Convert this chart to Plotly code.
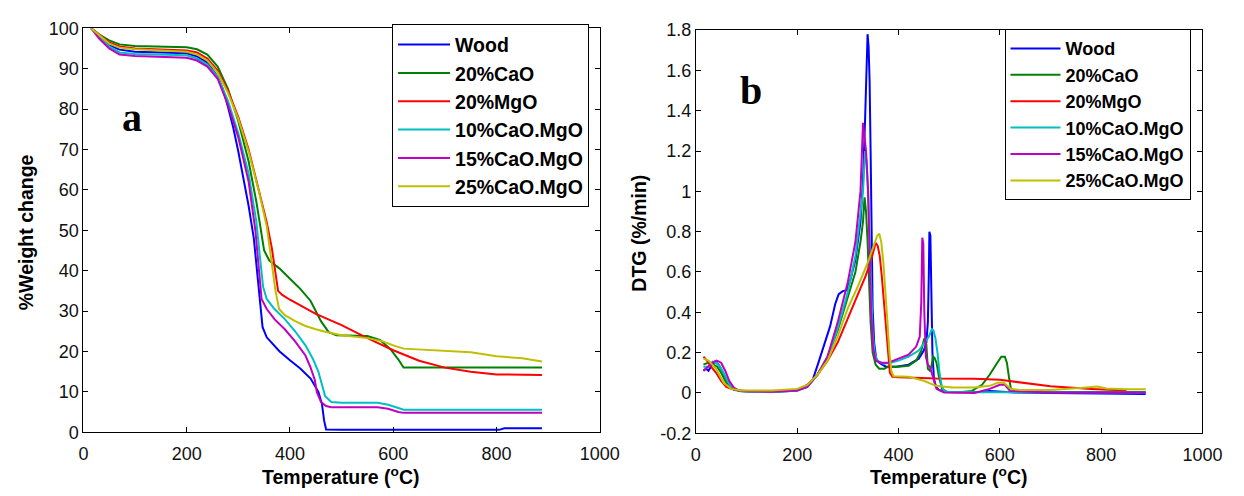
import plotly.graph_objects as go

# ---------------- series names & colours ----------------
names = ["Wood", "20%CaO", "20%MgO", "10%CaO.MgO", "15%CaO.MgO", "25%CaO.MgO"]
colors = ["#0000FF", "#008000", "#FF0000", "#00BFBF", "#BF00BF", "#BFBF00"]

# ---------------- (a) TGA: % weight vs temperature ----------------
tga_T_wood = [15, 30, 50, 70, 100, 150, 200, 220, 240, 260, 270, 280, 290, 300, 310, 320, 330, 338, 343, 347,
              355, 365, 380, 400, 420, 440, 455, 462, 466, 470, 500, 700, 805, 815, 888]
tga_w_wood = [100, 98.3, 95.8, 94.7, 94.2, 94.0, 93.8, 93.0, 91.5, 88.0, 85.0, 80.5, 75.5, 69.5, 63.0, 56.0, 48.0, 38.0, 32.0, 26.0,
              23.5, 22.0, 20.0, 17.8, 15.8, 13.3, 10.0, 7.0, 3.0, 0.7, 0.6, 0.6, 0.6, 1.0, 1.0]

tga_T_cao = [15, 30, 50, 70, 100, 200, 220, 240, 260, 280, 300, 320, 335, 343, 350, 360, 380, 400, 420, 440, 448,
             460, 475, 490, 550, 575, 595, 610, 620, 888]
tga_w_cao = [100, 98.5, 97.0, 96.0, 95.6, 95.3, 94.8, 93.5, 90.5, 85.0, 77.0, 67.0, 57.0, 50.0, 45.0, 42.5, 40.5, 38.0, 35.5, 32.5, 30.5,
             27.5, 24.8, 24.0, 23.8, 22.8, 20.5, 18.0, 16.0, 16.0]

tga_T_mgo = [15, 30, 50, 70, 100, 200, 220, 240, 260, 280, 300, 320, 340, 355, 365, 372, 377, 385, 400, 450, 500,
             550, 600, 650, 700, 750, 800, 888]
tga_w_mgo = [100, 98.5, 96.5, 95.5, 95.0, 94.5, 94.0, 92.5, 89.5, 84.5, 78.0, 70.0, 60.0, 52.0, 45.5, 39.5, 35.0, 34.0, 32.8, 29.3, 26.5,
             23.3, 20.3, 17.7, 16.0, 15.0, 14.3, 14.2]

tga_T_c10 = [15, 30, 50, 70, 100, 200, 220, 240, 260, 280, 300, 320, 335, 343, 348, 355, 370, 390, 410, 430, 445,
             455, 462, 468, 480, 500, 570, 590, 610, 620, 888]
tga_w_c10 = [100, 98.0, 95.5, 94.0, 93.6, 93.3, 92.5, 91.0, 88.0, 82.0, 74.0, 64.0, 52.0, 42.0, 36.0, 33.0, 30.5, 28.0, 25.0, 21.5, 18.0,
             15.0, 12.0, 9.0, 7.5, 7.3, 7.3, 6.8, 6.0, 5.6, 5.6]

tga_T_c15 = [15, 30, 50, 70, 100, 200, 220, 240, 260, 280, 300, 320, 333, 340, 345, 355, 370, 390, 410, 430, 440,
             448, 452, 460, 470, 480, 570, 590, 610, 620, 888]
tga_w_c15 = [100, 97.5, 95.0, 93.5, 93.1, 92.7, 92.0, 90.5, 87.5, 81.0, 73.0, 62.0, 50.0, 40.0, 33.0, 30.5, 28.0, 25.5, 22.5, 19.0, 16.0,
             13.0, 10.0, 7.5, 6.5, 6.2, 6.2, 5.8, 5.0, 4.8, 4.8]

tga_T_c25 = [15, 30, 50, 70, 100, 200, 220, 240, 260, 280, 300, 320, 340, 355, 365, 372, 379, 390, 410, 430, 450,
             470, 500, 550, 580, 600, 620, 650, 700, 750, 800, 850, 888]
tga_w_c25 = [100, 98.3, 96.2, 95.2, 94.8, 94.2, 93.5, 92.0, 89.0, 84.0, 77.5, 69.5, 59.5, 51.0, 42.0, 35.0, 30.5, 29.0, 27.5, 26.3, 25.5,
             24.8, 24.0, 23.3, 22.5, 21.5, 20.7, 20.5, 20.2, 19.8, 18.8, 18.3, 17.5]

# ---------------- (b) DTG: %/min vs temperature ----------------
dtg_T_wood = [15, 20, 25, 32, 38, 45, 52, 60, 70, 80, 95, 120, 150, 180, 200, 215, 230, 242, 255, 265, 275, 282, 290, 298,
              305, 315, 325, 330, 334, 337, 339, 341, 343, 345, 347, 349, 352, 356, 362, 375, 395, 420, 440, 450, 455,
              458, 460, 461, 463, 465, 467, 470, 474, 480, 490, 520, 560, 580, 600, 615, 630, 700, 800, 888]
dtg_v_wood = [0.11, 0.12, 0.11, 0.14, 0.155, 0.14, 0.11, 0.07, 0.035, 0.015, 0.008, 0.006, 0.006, 0.008, 0.012, 0.03, 0.06, 0.15, 0.25, 0.33, 0.44, 0.49, 0.505, 0.51,
              0.56, 0.66, 0.85, 1.05, 1.35, 1.7, 1.78, 1.72, 1.55, 1.2, 0.75, 0.42, 0.25, 0.17, 0.15, 0.13, 0.13, 0.14, 0.17, 0.21, 0.25,
              0.35, 0.6, 0.8, 0.78, 0.5, 0.2, 0.07, 0.03, 0.015, 0.006, 0.004, 0.005, 0.01, 0.008, 0.004, 0.002, 0.0, -0.003, -0.005]

dtg_T_cao = [15, 25, 35, 42, 50, 58, 66, 75, 90, 120, 160, 200, 220, 240, 260, 280, 300, 315, 325, 330, 333, 336, 339, 342,
             345, 349, 355, 362, 372, 380, 400, 420, 435, 445, 451, 455, 458, 462, 465, 468, 471, 475, 480, 486, 495, 520,
             545, 565, 580, 595, 603, 610, 614, 618, 622, 630, 700, 888]
dtg_v_cao = [0.14, 0.15, 0.14, 0.13, 0.1, 0.06, 0.03, 0.015, 0.008, 0.007, 0.008, 0.012, 0.03, 0.09, 0.18, 0.31, 0.48, 0.6, 0.75, 0.85, 0.97, 0.9, 0.75, 0.55,
             0.35, 0.2, 0.14, 0.12, 0.12, 0.13, 0.13, 0.135, 0.16, 0.21, 0.27, 0.24, 0.12, 0.11, 0.13, 0.18, 0.175, 0.15, 0.08, 0.02, 0.005, 0.003,
             0.01, 0.04, 0.09, 0.15, 0.18, 0.18, 0.15, 0.08, 0.02, 0.008, 0.004, 0.004]

dtg_T_mgo = [15, 22, 30, 40, 50, 60, 70, 85, 110, 150, 200, 220, 240, 260, 280, 300, 320, 335, 345, 350, 355, 359, 363, 367,
             371, 375, 379, 383, 388, 400, 475, 550, 600, 650, 700, 780, 850]
dtg_v_mgo = [0.18, 0.16, 0.13, 0.1, 0.06, 0.03, 0.02, 0.012, 0.008, 0.008, 0.015, 0.04, 0.09, 0.16, 0.25, 0.37, 0.49, 0.58, 0.65, 0.7, 0.745, 0.73, 0.68, 0.58,
             0.46, 0.33, 0.2, 0.1, 0.08, 0.078, 0.071, 0.07, 0.065, 0.05, 0.033, 0.02, 0.012]

dtg_T_c10 = [15, 25, 33, 40, 48, 56, 65, 75, 90, 120, 160, 200, 220, 240, 260, 280, 300, 315, 325, 330, 334, 337, 340, 343,
             346, 349, 353, 358, 370, 385, 400, 420, 440, 452, 460, 466, 469, 473, 477, 481, 485, 490, 500, 550, 600, 700, 888]
dtg_v_c10 = [0.13, 0.13, 0.155, 0.15, 0.13, 0.09, 0.05, 0.02, 0.008, 0.006, 0.006, 0.012, 0.03, 0.09, 0.17, 0.32, 0.5, 0.68, 0.88, 1.0, 1.2, 1.15, 1.0, 0.75,
             0.5, 0.3, 0.2, 0.16, 0.145, 0.15, 0.16, 0.18, 0.21, 0.25, 0.28, 0.316, 0.31, 0.27, 0.2, 0.1, 0.04, 0.01, 0.004, 0.003, 0.003, 0.002, 0.002]

dtg_T_c15 = [15, 25, 33, 41, 50, 58, 66, 75, 85, 100, 150, 200, 220, 240, 260, 280, 300, 315, 325, 330, 333, 336, 340, 343,
             346, 350, 355, 365, 380, 400, 420, 435, 442, 445, 447, 449, 451, 454, 458, 462, 468, 475, 490, 550, 580, 600, 610,
             620, 700, 888]
dtg_v_c15 = [0.11, 0.13, 0.15, 0.16, 0.15, 0.11, 0.06, 0.025, 0.012, 0.008, 0.006, 0.012, 0.03, 0.09, 0.18, 0.35, 0.55, 0.75, 1.0, 1.34, 1.28, 1.2, 1.0, 0.7,
             0.4, 0.22, 0.16, 0.15, 0.15, 0.17, 0.19, 0.23, 0.28, 0.45, 0.77, 0.74, 0.4, 0.18, 0.14, 0.13, 0.08, 0.02, 0.002, 0.0, 0.02, 0.04, 0.04,
             0.01, 0.002, 0.002]

dtg_T_c25 = [15, 25, 40, 55, 70, 90, 150, 200, 220, 240, 260, 280, 300, 320, 340, 352, 358, 362, 366, 370, 374, 378, 382,
             386, 390, 420, 450, 474, 506, 550, 580, 596, 608, 622, 640, 700, 758, 793, 810, 850, 888]
dtg_v_c25 = [0.17, 0.16, 0.12, 0.05, 0.02, 0.012, 0.012, 0.02, 0.04, 0.09, 0.16, 0.28, 0.42, 0.53, 0.65, 0.73, 0.78, 0.79, 0.75, 0.65, 0.52, 0.36, 0.2,
             0.11, 0.083, 0.08, 0.06, 0.035, 0.027, 0.027, 0.035, 0.05, 0.05, 0.019, 0.015, 0.015, 0.024, 0.032, 0.022, 0.018, 0.018]

tga_T = [tga_T_wood, tga_T_cao, tga_T_mgo, tga_T_c10, tga_T_c15, tga_T_c25]
tga_w = [tga_w_wood, tga_w_cao, tga_w_mgo, tga_w_c10, tga_w_c15, tga_w_c25]
dtg_T = [dtg_T_wood, dtg_T_cao, dtg_T_mgo, dtg_T_c10, dtg_T_c15, dtg_T_c25]
dtg_v = [dtg_v_wood, dtg_v_cao, dtg_v_mgo, dtg_v_c10, dtg_v_c15, dtg_v_c25]

# ---------------- tick labels ----------------
x_ticks = [0, 200, 400, 600, 800, 1000]
x_ticklabels = ["0", "200", "400", "600", "800", "1000"]
tga_ticks = [0, 10, 20, 30, 40, 50, 60, 70, 80, 90, 100]
tga_ticklabels = ["0", "10", "20", "30", "40", "50", "60", "70", "80", "90", "100"]
dtg_ticks = [-0.2, 0, 0.2, 0.4, 0.6, 0.8, 1.0, 1.2, 1.4, 1.6, 1.8]
dtg_ticklabels = ["-0.2", "0", "0.2", "0.4", "0.6", "0.8", "1", "1.2", "1.4", "1.6", "1.8"]

W, H = 1244, 496
FONT = "Liberation Sans, Arial, sans-serif"

fig = go.Figure()

for i in range(6):
    fig.add_trace(go.Scatter(x=tga_T[i], y=tga_w[i], mode="lines", name=names[i],
                             line=dict(color=colors[i], width=2),
                             xaxis="x", yaxis="y", legend="legend"))
for i in range(6):
    fig.add_trace(go.Scatter(x=dtg_T[i], y=dtg_v[i], mode="lines", name=names[i],
                             line=dict(color=colors[i], width=2),
                             xaxis="x2", yaxis="y2", legend="legend2"))


def px_x(p):
    return p / W


def px_y(p):
    return 1 - p / H


axis_common = dict(showline=True, linecolor="black", linewidth=1, mirror="ticks",
                   ticks="inside", ticklen=5, tickcolor="black", showgrid=False,
                   zeroline=False, tickfont=dict(family=FONT, size=18, color="#111"))

fig.update_layout(
    width=W, height=H,
    margin=dict(l=0, r=0, t=0, b=0),
    paper_bgcolor="white", plot_bgcolor="white",
    showlegend=True,
    xaxis=dict(domain=[px_x(80), px_x(607)], range=[0, 1000], anchor="y",
               tickvals=x_ticks, ticktext=x_ticklabels, ticklabelstandoff=5, **axis_common),
    yaxis=dict(domain=[px_y(440), px_y(19)], range=[0, 100], anchor="x",
               tickvals=tga_ticks, ticktext=tga_ticklabels, **axis_common),
    xaxis2=dict(domain=[px_x(705), px_x(1222)], range=[0, 1000], anchor="y2",
                tickvals=x_ticks, ticktext=x_ticklabels, ticklabelstandoff=5, **axis_common),
    yaxis2=dict(domain=[px_y(441), px_y(21)], range=[-0.2, 1.8], anchor="x2",
                tickvals=dtg_ticks, ticktext=dtg_ticklabels, **axis_common),
    legend=dict(x=px_x(395), y=px_y(15), xanchor="left", yanchor="top",
                bgcolor="white", bordercolor="black", borderwidth=1,
                font=dict(family=FONT, size=19.5, color="black", weight="bold"),
                itemwidth=52),
    legend2=dict(x=px_x(1020), y=px_y(20), xanchor="left", yanchor="top",
                 bgcolor="white", bordercolor="black", borderwidth=1,
                 font=dict(family=FONT, size=18, color="black", weight="bold"),
                 itemwidth=50),
)

title_font = dict(family=FONT, size=19.5, color="black", weight="bold")
annotations = [
    dict(text="Temperature (<sup>o</sup>C)", x=px_x(343), y=px_y(486), font=title_font),
    dict(text="Temperature (<sup>o</sup>C)", x=px_x(963), y=px_y(486), font=title_font),
    dict(text="%Weight change", x=px_x(21), y=px_y(232), textangle=-90, font=title_font),
    dict(text="DTG (%/min)", x=px_x(647), y=px_y(232), textangle=-90, font=title_font),
    dict(text="a", x=px_x(130), y=px_y(112),
         font=dict(family="Liberation Serif, Times New Roman, serif", size=40, color="black", weight="bold")),
    dict(text="b", x=px_x(761), y=px_y(84),
         font=dict(family="Liberation Serif, Times New Roman, serif", size=40, color="black", weight="bold")),
]
for a in annotations:
    a.update(xref="paper", yref="paper", showarrow=False, xanchor="center", yanchor="middle")
fig.update_layout(annotations=annotations)

fig.write_html("out.html")
